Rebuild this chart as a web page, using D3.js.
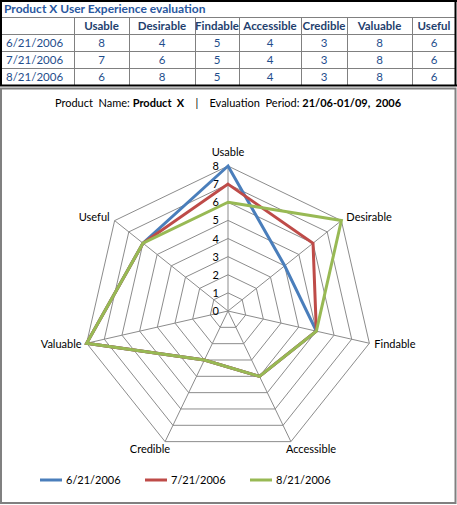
<!DOCTYPE html>
<html><head><meta charset="utf-8">
<script src="https://cdn.jsdelivr.net/npm/d3@7"></script>
<style>
html,body{margin:0;padding:0;background:#fff;}
svg{display:block;font-family:Lato,"Open Sans",sans-serif;}
</style></head>
<body>
<svg id="c" width="457" height="505"></svg>
<script>
// ---- data ----
const tableTitle = "Product X User Experience evaluation";
const categories = ["Usable","Desirable","Findable","Accessible","Credible","Valuable","Useful"];
const seriesNames = ["6/21/2006","7/21/2006","8/21/2006"];
const values0621 = [8,4,5,4,3,8,6];
const values0721 = [7,6,5,4,3,8,6];
const values0821 = [6,8,5,4,3,8,6];
const tickValues = [0,1,2,3,4,5,6,7,8];
const seriesColors = ["#4A7EBB","#BE4B48","#98B954"];
const allSeries = [values0621, values0721, values0821];

const svg = d3.select("#c");

// ---- table ----
const colX = [0,74,129,195,239,301,347,412,456];
const rowY = [0,17,34,51,68,85];
const gridCol = "#808080";
const tg = svg.append("g");
[1,2,3,4].forEach(i=>{
  tg.append("line").attr("x1",0).attr("x2",456).attr("y1",rowY[i]+0.5).attr("y2",rowY[i]+0.5)
    .attr("stroke",gridCol).attr("stroke-width",1);
});
colX.slice(1,-1).forEach(x=>{
  tg.append("line").attr("x1",x+0.5).attr("x2",x+0.5).attr("y1",rowY[1]).attr("y2",rowY[5])
    .attr("stroke",gridCol).attr("stroke-width",1);
});
tg.append("line").attr("x1",0).attr("x2",457).attr("y1",1).attr("y2",1).attr("stroke","#000").attr("stroke-width",2);
tg.append("line").attr("x1",1).attr("x2",1).attr("y1",0).attr("y2",86).attr("stroke","#000").attr("stroke-width",2);
tg.append("line").attr("x1",455.5).attr("x2",455.5).attr("y1",0).attr("y2",86).attr("stroke","#000").attr("stroke-width",2);
tg.append("line").attr("x1",0).attr("x2",457).attr("y1",85.5).attr("y2",85.5).attr("stroke","#000").attr("stroke-width",2);

tg.append("text").attr("x",4).attr("y",13).attr("font-size",12).attr("font-weight","bold")
  .attr("fill","#2A58A0").text(tableTitle);
categories.forEach((c,i)=>{
  tg.append("text").attr("x",(colX[i+1]+colX[i+2])/2).attr("y",30).attr("text-anchor","middle")
    .attr("font-size",11.5).attr("font-weight","bold").attr("fill","#1F3F6E").text(c);
});
allSeries.forEach((vals,r)=>{
  const y = rowY[r+2]+13;
  tg.append("text").attr("x",6).attr("y",y).attr("font-size",11.5).attr("fill","#1F4E8C").text(seriesNames[r]);
  vals.forEach((v,i)=>{
    tg.append("text").attr("x",(colX[i+1]+colX[i+2])/2).attr("y",y).attr("text-anchor","middle")
      .attr("font-size",11.5).attr("fill","#1F4E8C").text(v);
  });
});

// ---- chart frame ----
svg.append("rect").attr("x",1).attr("y",88.5).attr("width",454.5).attr("height",414.5)
  .attr("fill","none").attr("stroke","#808080").attr("stroke-width",2);

const st = svg.append("text").attr("x",228).attr("y",107).attr("text-anchor","middle")
  .attr("font-size",11).attr("fill","#000").attr("xml:space","preserve");
st.append("tspan").text("Product  Name: ");
st.append("tspan").attr("font-weight","bold").text("Product  X");
st.append("tspan").text("    |    Evaluation  Period: ");
st.append("tspan").attr("font-weight","bold").text("21/06-01/09,  2006");

// ---- radar ----
const cx = 228, cy = 311;
const r = d3.scaleLinear().domain([0,8]).range([0,145]);
const ang = d3.scaleLinear().domain([0,categories.length]).range([0,2*Math.PI]);
const g = svg.append("g").attr("transform",`translate(${cx},${cy})`);

const radial = d3.lineRadial().angle((d,i)=>ang(i)).radius(d=>r(d)).curve(d3.curveLinearClosed);

tickValues.slice(1).forEach(t=>{
  g.append("path").attr("d",radial(categories.map(()=>t)))
    .attr("fill","none").attr("stroke","#8C8C8C").attr("stroke-width",1);
});
categories.forEach((c,i)=>{
  const a = ang(i);
  g.append("line").attr("x1",0).attr("y1",0)
    .attr("x2",Math.sin(a)*r(8)).attr("y2",-Math.cos(a)*r(8))
    .attr("stroke","#8C8C8C").attr("stroke-width",1);
});
tickValues.forEach(t=>{
  g.append("text").attr("x",-9).attr("y",-r(t)+4).attr("text-anchor","end")
    .attr("font-size",11).attr("fill","#000").text(t);
});
categories.forEach((c,i)=>{
  const a = ang(i);
  const sx = Math.sin(a), sy = -Math.cos(a);
  const px = sx*r(8), py = sy*r(8);
  let anchor = "middle", dx = 0, dy = 0;
  if (i===0){ dy = -10; }
  else if (i===1){ anchor="start"; dx=5; dy=0; }
  else if (i===6){ anchor="end"; dx=-5; dy=0; }
  else if (i===2){ anchor="start"; dx=5; dy=5; }
  else if (i===5){ anchor="end"; dx=-5; dy=5; }
  else if (i===3){ anchor="start"; dx=-5; dy=11; }
  else if (i===4){ anchor="end"; dx=5; dy=11; }
  g.append("text").attr("x",px+dx).attr("y",py+dy).attr("text-anchor",anchor)
    .attr("font-size",11).attr("fill","#000").text(c);
});
allSeries.forEach((vals,k)=>{
  g.append("path").attr("d",radial(vals)).attr("fill","none")
    .attr("stroke",seriesColors[k]).attr("stroke-width",3).attr("stroke-linejoin","miter");
});

// ---- legend ----
const lg = svg.append("g").attr("transform","translate(40,480)");
seriesNames.forEach((n,k)=>{
  const x0 = k*105;
  lg.append("line").attr("x1",x0).attr("x2",x0+22).attr("y1",0).attr("y2",0)
    .attr("stroke",seriesColors[k]).attr("stroke-width",3);
  lg.append("text").attr("x",x0+26).attr("y",4).attr("font-size",11).attr("fill","#000").text(n);
});
</script>
</body></html>
